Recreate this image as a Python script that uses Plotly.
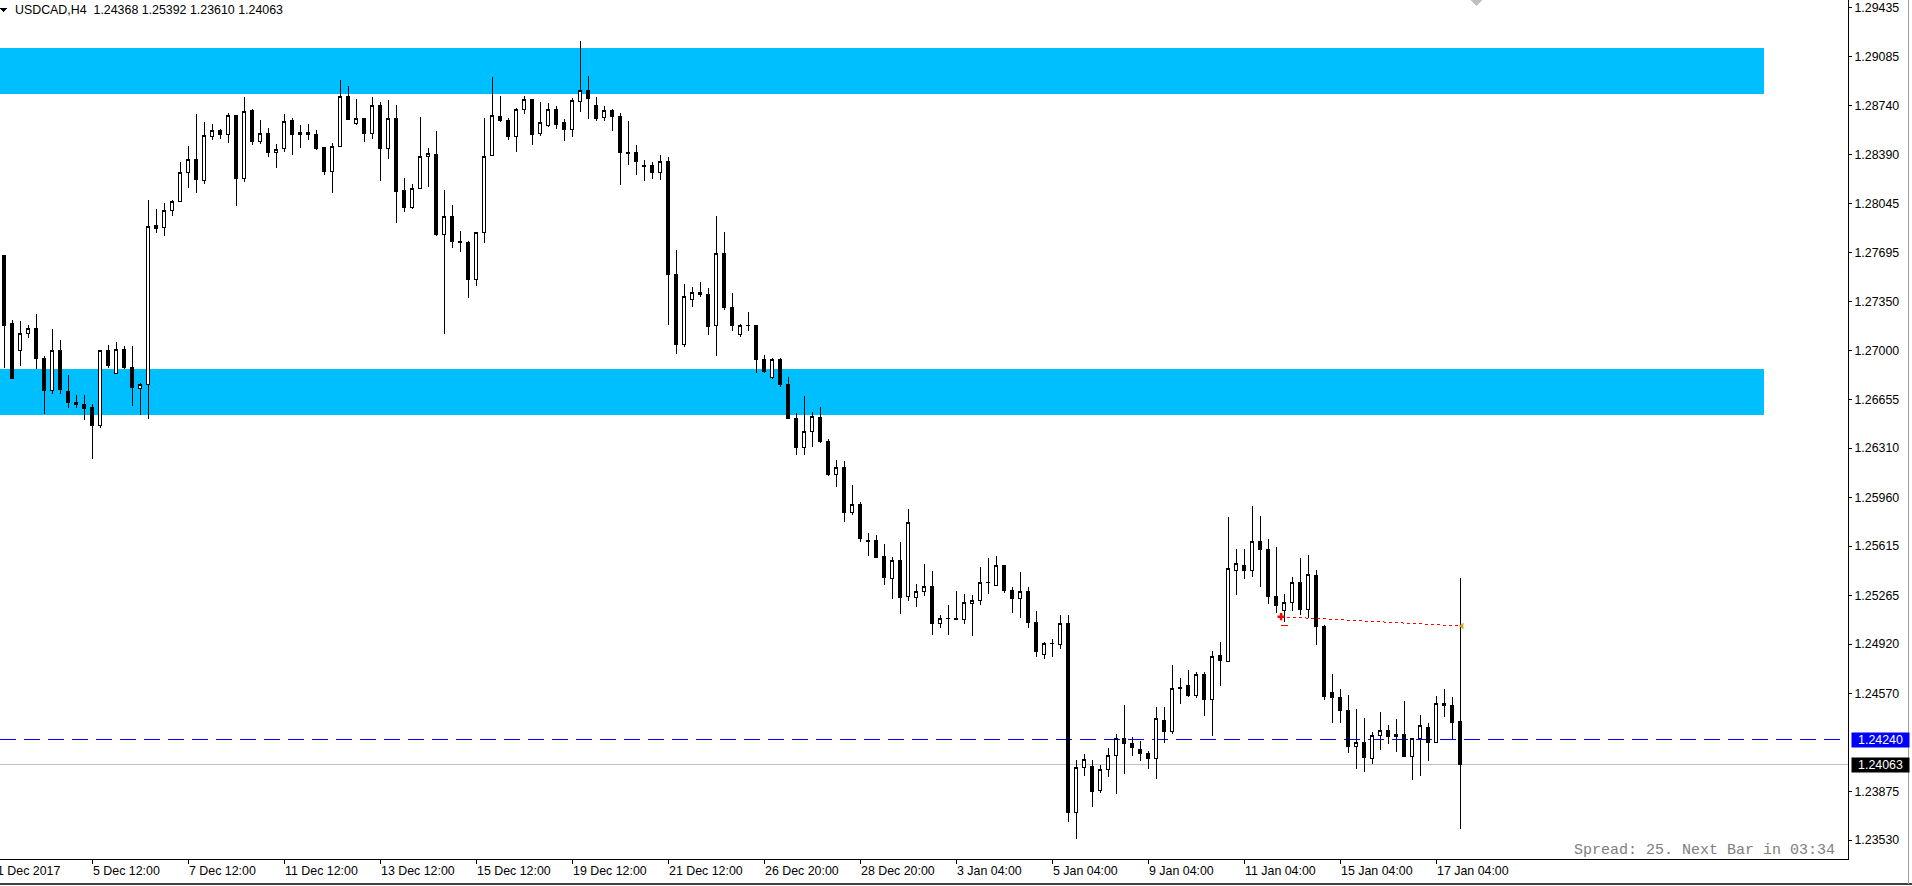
import plotly.graph_objects as go

# ---------------- data ----------------
bar_index = list(range(183))

opens = [1.27672, 1.27190, 1.27003, 1.27124, 1.27159, 1.26948, 1.26716, 1.27003, 1.26714, 1.26636,
         1.26622, 1.26594, 1.26468, 1.27003, 1.26840, 1.27010, 1.26883, 1.26734, 1.26762, 1.27889,
         1.27875, 1.27996, 1.28057, 1.28265, 1.28357, 1.28209, 1.28521, 1.28563, 1.28535, 1.28669,
         1.28220, 1.28700, 1.28482, 1.28542, 1.28404, 1.28432, 1.28634, 1.28532, 1.28549, 1.28535,
         1.28443, 1.28269, 1.28450, 1.28804, 1.28610, 1.28648, 1.28539, 1.28740, 1.28435, 1.28648,
         1.28138, 1.28017, 1.28152, 1.28379, 1.28395, 1.27823, 1.27953, 1.27778, 1.27771, 1.27504,
         1.27840, 1.28383, 1.28664, 1.28636, 1.28518, 1.28712, 1.28785, 1.28539, 1.28596, 1.28714,
         1.28615, 1.28567, 1.28769, 1.28847, 1.28740, 1.28655, 1.28700, 1.28664, 1.28407, 1.28409,
         1.28315, 1.28317, 1.28265, 1.28343, 1.27542, 1.27043, 1.27365, 1.27414, 1.27402, 1.27177,
         1.27693, 1.27310, 1.27117, 1.27177, 1.27182, 1.26939, 1.26809, 1.26939, 1.26762, 1.26523,
         1.26312, 1.26426, 1.26528, 1.26358, 1.26124, 1.26173, 1.25854, 1.25913, 1.25658, 1.25651,
         1.25544, 1.25386, 1.25516, 1.25254, 1.25252, 1.25294, 1.25325, 1.25064, 1.25103, 1.25103,
         1.25096, 1.25209, 1.25230, 1.25358, 1.25337, 1.25479, 1.25301, 1.25245, 1.25294, 1.25074,
         1.24847, 1.24923, 1.24918, 1.25067, 1.23727, 1.24046, 1.24053, 1.23883, 1.24032, 1.24131,
         1.24252, 1.24218, 1.24176, 1.24145, 1.24110, 1.24381, 1.24301, 1.24615, 1.24623, 1.24552,
         1.24701, 1.24528, 1.24837, 1.24795, 1.25443, 1.25479, 1.25443, 1.25649, 1.25592, 1.25259,
         1.25159, 1.25216, 1.25358, 1.25166, 1.25408, 1.25046, 1.24578, 1.24542, 1.24450, 1.24192,
         1.24223, 1.24110, 1.24273, 1.24308, 1.24266, 1.24280, 1.24121, 1.24252, 1.24330, 1.24220,
         1.24500, 1.24486, 1.24368]

highs = [1.27679, 1.27218, 1.27211, 1.27182, 1.27260, 1.26963, 1.27154, 1.27076, 1.26828, 1.26686,
         1.26686, 1.26622, 1.27005, 1.27041, 1.27062, 1.27031, 1.27034, 1.26769, 1.28069, 1.28002,
         1.28048, 1.28069, 1.28338, 1.28452, 1.28679, 1.28622, 1.28608, 1.28572, 1.28686, 1.28672,
         1.28799, 1.28714, 1.28636, 1.28579, 1.28466, 1.28679, 1.28648, 1.28601, 1.28608, 1.28565,
         1.28445, 1.28471, 1.28920, 1.28877, 1.28785, 1.28650, 1.28797, 1.28764, 1.28778, 1.28740,
         1.28225, 1.28182, 1.28655, 1.28438, 1.28558, 1.28140, 1.28033, 1.27849, 1.27778, 1.27842,
         1.28650, 1.28941, 1.28806, 1.28650, 1.28721, 1.28806, 1.28787, 1.28764, 1.28757, 1.28735,
         1.28643, 1.28790, 1.29196, 1.28948, 1.28799, 1.28735, 1.28714, 1.28686, 1.28629, 1.28459,
         1.28352, 1.28338, 1.28388, 1.28374, 1.27714, 1.27473, 1.27452, 1.27487, 1.27443, 1.27957,
         1.27844, 1.27409, 1.27187, 1.27275, 1.27184, 1.26970, 1.26946, 1.26946, 1.26816, 1.26556,
         1.26679, 1.26565, 1.26601, 1.26376, 1.26225, 1.26218, 1.26048, 1.25925, 1.25710, 1.25693,
         1.25629, 1.25537, 1.25644, 1.25878, 1.25346, 1.25488, 1.25438, 1.25128, 1.25195, 1.25296,
         1.25273, 1.25266, 1.25466, 1.25530, 1.25544, 1.25481, 1.25323, 1.25429, 1.25323, 1.25152,
         1.24937, 1.24954, 1.25124, 1.25124, 1.24098, 1.24140, 1.24098, 1.24065, 1.24183, 1.24282,
         1.24488, 1.24263, 1.24235, 1.24160, 1.24474, 1.24474, 1.24771, 1.24679, 1.24736, 1.24720,
         1.24720, 1.24871, 1.24935, 1.25823, 1.25594, 1.25594, 1.25899, 1.25828, 1.25665, 1.25608,
         1.25275, 1.25393, 1.25530, 1.25551, 1.25445, 1.25053, 1.24708, 1.24601, 1.24559, 1.24459,
         1.24396, 1.24294, 1.24438, 1.24344, 1.24389, 1.24516, 1.24254, 1.24415, 1.24360, 1.24550,
         1.24601, 1.24547, 1.25392]

lows = [1.26880, 1.26798, 1.26894, 1.27092, 1.26873, 1.26553, 1.26691, 1.26695, 1.26596, 1.26596,
        1.26507, 1.26232, 1.26454, 1.26880, 1.26838, 1.26873, 1.26610, 1.26546, 1.26518, 1.27837,
        1.27816, 1.27957, 1.28055, 1.28156, 1.28121, 1.28184, 1.28496, 1.28503, 1.28475, 1.28028,
        1.28199, 1.28461, 1.28468, 1.28376, 1.28298, 1.28411, 1.28390, 1.28440, 1.28496, 1.28425,
        1.28248, 1.28121, 1.28448, 1.28636, 1.28603, 1.28482, 1.28503, 1.28206, 1.28362, 1.27908,
        1.27986, 1.28007, 1.28150, 1.28163, 1.27813, 1.27121, 1.27731, 1.27702, 1.27376, 1.27461,
        1.27762, 1.28381, 1.28622, 1.28494, 1.28411, 1.28681, 1.28461, 1.28525, 1.28589, 1.28574,
        1.28489, 1.28518, 1.28693, 1.28643, 1.28629, 1.28629, 1.28558, 1.28177, 1.28319, 1.28248,
        1.28206, 1.28220, 1.28213, 1.27185, 1.26980, 1.27028, 1.27312, 1.27379, 1.27114, 1.26965,
        1.27291, 1.27142, 1.27099, 1.27142, 1.26840, 1.26840, 1.26802, 1.26745, 1.26516, 1.26263,
        1.26263, 1.26319, 1.26348, 1.26114, 1.26036, 1.25788, 1.25833, 1.25646, 1.25544, 1.25532,
        1.25339, 1.25242, 1.25135, 1.25227, 1.25185, 1.25263, 1.24986, 1.25036, 1.24986, 1.25091,
        1.25064, 1.24979, 1.25195, 1.25273, 1.25335, 1.25280, 1.25142, 1.25107, 1.25036, 1.24830,
        1.24816, 1.24826, 1.24887, 1.23658, 1.23540, 1.23986, 1.23767, 1.23862, 1.23975, 1.23859,
        1.24001, 1.24128, 1.24089, 1.24036, 1.23965, 1.24216, 1.24280, 1.24497, 1.24545, 1.24535,
        1.24412, 1.24266, 1.24625, 1.24793, 1.25270, 1.25383, 1.25395, 1.25325, 1.25206, 1.25140,
        1.25074, 1.25152, 1.25124, 1.25103, 1.24915, 1.24523, 1.24358, 1.24362, 1.24149, 1.24036,
        1.24015, 1.24072, 1.24171, 1.24213, 1.24157, 1.24119, 1.23958, 1.23986, 1.24093, 1.24218,
        1.24405, 1.24240, 1.23610]

closes = [1.27177, 1.26802, 1.27124, 1.27159, 1.26943, 1.26716, 1.27003, 1.26724, 1.26631, 1.26617,
          1.26589, 1.26468, 1.27003, 1.26894, 1.27010, 1.26880, 1.26741, 1.26762, 1.27882, 1.27865,
          1.27996, 1.28060, 1.28265, 1.28357, 1.28213, 1.28528, 1.28563, 1.28532, 1.28669, 1.28220,
          1.28698, 1.28482, 1.28542, 1.28404, 1.28428, 1.28627, 1.28532, 1.28549, 1.28532, 1.28432,
          1.28269, 1.28450, 1.28804, 1.28643, 1.28648, 1.28539, 1.28740, 1.28435, 1.28648, 1.28128,
          1.28017, 1.28149, 1.28379, 1.28397, 1.27823, 1.27953, 1.27773, 1.27769, 1.27504, 1.27840,
          1.28379, 1.28669, 1.28631, 1.28518, 1.28714, 1.28785, 1.28532, 1.28620, 1.28714, 1.28603,
          1.28567, 1.28771, 1.28847, 1.28787, 1.28650, 1.28700, 1.28659, 1.28404, 1.28397, 1.28340,
          1.28305, 1.28262, 1.28343, 1.27539, 1.27044, 1.27386, 1.27414, 1.27397, 1.27170, 1.27693,
          1.27310, 1.27177, 1.27180, 1.27180, 1.26936, 1.26851, 1.26939, 1.26759, 1.26518, 1.26312,
          1.26429, 1.26535, 1.26355, 1.26119, 1.26173, 1.25851, 1.25913, 1.25667, 1.25649, 1.25537,
          1.25391, 1.25516, 1.25249, 1.25785, 1.25294, 1.25330, 1.25064, 1.25100, 1.25104, 1.25093,
          1.25216, 1.25230, 1.25358, 1.25360, 1.25479, 1.25298, 1.25242, 1.25294, 1.25071, 1.24866,
          1.24925, 1.24925, 1.25067, 1.23727, 1.24046, 1.24103, 1.23873, 1.24032, 1.24131, 1.24252,
          1.24213, 1.24188, 1.24145, 1.24110, 1.24389, 1.24298, 1.24606, 1.24603, 1.24552, 1.24701,
          1.24530, 1.24835, 1.24805, 1.25457, 1.25488, 1.25443, 1.25649, 1.25589, 1.25256, 1.25192,
          1.25216, 1.25358, 1.25166, 1.25415, 1.25043, 1.24547, 1.24542, 1.24447, 1.24192, 1.24220,
          1.24114, 1.24273, 1.24308, 1.24263, 1.24280, 1.24121, 1.24252, 1.24344, 1.24220, 1.24500,
          1.24486, 1.24362, 1.24063]

y_tick_values = [1.29435, 1.29085, 1.28740, 1.28390, 1.28045, 1.27695, 1.27350, 1.27000, 1.26655,
                 1.26310, 1.25960, 1.25615, 1.25265, 1.24920, 1.24570, 1.23875, 1.23530]

x_label_bars = [-1, 11, 23, 35, 47, 59, 71, 83, 95, 107, 119, 131, 143, 155, 167, 179]
x_label_texts = ["1 Dec 2017", "5 Dec 12:00", "7 Dec 12:00", "11 Dec 12:00", "13 Dec 12:00",
                 "15 Dec 12:00", "19 Dec 12:00", "21 Dec 12:00", "26 Dec 20:00", "28 Dec 20:00",
                 "3 Jan 04:00", "5 Jan 04:00", "9 Jan 04:00", "11 Jan 04:00", "15 Jan 04:00",
                 "17 Jan 04:00"]

zone_upper = [1.28823, 1.29147]
zone_lower = [1.26546, 1.26870]
zone_end_bar = 220

ask_price = 1.24240
last_price = 1.24063

trade_bars = [159.6, 182.2]
trade_prices = [1.25114, 1.25048]
stop_bars = [159.6, 160.5]
stop_price = 1.25053

symbol_text = "USDCAD,H4"
status_text = "Spread: 25. Next Bar in 03:34"

# ---------------- figure ----------------
FONT = "Liberation Sans, Arial, sans-serif"
W, H = 1912, 886
PLOT_W, PLOT_H = 1848, 859

fig = go.Figure()

fig.add_trace(go.Candlestick(
    x=bar_index, open=opens, high=highs, low=lows, close=closes,
    increasing=dict(line=dict(color="black", width=1), fillcolor="white"),
    decreasing=dict(line=dict(color="black", width=1), fillcolor="black"),
    whiskerwidth=0, hoverinfo="skip", showlegend=False,
))

fig.add_trace(go.Scatter(
    x=trade_bars, y=trade_prices, mode="lines",
    line=dict(color="#FF0000", width=1, dash="3px,3px"), hoverinfo="skip", showlegend=False))
fig.add_trace(go.Scatter(
    x=stop_bars, y=[stop_price, stop_price], mode="lines",
    line=dict(color="#FF0000", width=1.5), hoverinfo="skip", showlegend=False))
fig.add_trace(go.Scatter(
    x=[trade_bars[0]], y=[trade_prices[0]], mode="markers",
    marker=dict(symbol="cross", size=6, color="#FF0000", line=dict(width=0)),
    hoverinfo="skip", showlegend=False))
fig.add_trace(go.Scatter(
    x=[trade_bars[1]], y=[trade_prices[1]], mode="markers",
    marker=dict(symbol="triangle-left", size=6, color="#DAA520", line=dict(width=0)),
    hoverinfo="skip", showlegend=False))

shapes = []
for lo, hi in (zone_upper, zone_lower):
    shapes.append(dict(type="rect", xref="x", yref="y", x0=-5, x1=zone_end_bar, y0=lo, y1=hi,
                       fillcolor="#00BFFF", line=dict(width=0), layer="below"))
shapes.append(dict(type="line", xref="paper", yref="y", x0=0, x1=1, y0=last_price, y1=last_price,
                   line=dict(color="#C0C0C0", width=1), layer="below"))
shapes.append(dict(type="line", xref="paper", yref="y", x0=0, x1=1, y0=ask_price, y1=ask_price,
                   line=dict(color="#0000FF", width=1, dash="16px,8px"), layer="below"))

# small header triangle
shapes.append(dict(type="path", xref="paper", yref="paper",
                   path=f"M 0 {1-8.3/PLOT_H} L {6.7/PLOT_W} {1-8.3/PLOT_H} L {3.35/PLOT_W} {1-12.3/PLOT_H} Z",
                   fillcolor="black", line=dict(width=0)))
# chart-shift marker at top
shapes.append(dict(type="path", xref="paper", yref="paper",
                   path=f"M {1471/PLOT_W} 1 L {1482/PLOT_W} 1 L {1476.5/PLOT_W} {1-6/PLOT_H} Z",
                   fillcolor="#C0C0C0", line=dict(width=0)))
# window borders
shapes.append(dict(type="line", xref="paper", yref="paper", x0=0, x1=W/PLOT_W,
                   y0=(PLOT_H-884)/PLOT_H, y1=(PLOT_H-884)/PLOT_H,
                   line=dict(color="#404040", width=2)))
shapes.append(dict(type="line", xref="paper", yref="paper", x0=1908.5/PLOT_W, x1=1908.5/PLOT_W,
                   y0=1, y1=(PLOT_H-884)/PLOT_H, line=dict(color="#A0A0A0", width=1)))

annotations = []
for b, t in zip(x_label_bars, x_label_texts):
    xb = b if b >= 0 else -0.5
    xs = -1 if b >= 0 else -4 - 1
    annotations.append(dict(x=xb, xref="x", y=-12/PLOT_H, yref="paper", text=t,
                            xanchor="left", yanchor="middle", xshift=xs, showarrow=False,
                            font=dict(family=FONT, size=12.4, color="black")))

annotations.append(dict(x=1, xref="paper", xshift=3, y=ask_price, yref="y", text=f"{ask_price:.5f}",
                        xanchor="left", yanchor="middle", showarrow=False, bgcolor="#0000FF",
                        width=55, height=12, borderpad=1,
                        font=dict(family=FONT, size=12.4, color="white")))
annotations.append(dict(x=1, xref="paper", xshift=3, y=last_price, yref="y", text=f"{last_price:.5f}",
                        xanchor="left", yanchor="middle", showarrow=False, bgcolor="#000000",
                        width=55, height=12, borderpad=1,
                        font=dict(family=FONT, size=12.4, color="white")))

header = (symbol_text + "\u00a0\u00a0" +
          " ".join(f"{v:.5f}" for v in (opens[-1], highs[-1], lows[-1], closes[-1])))
annotations.append(dict(x=14/PLOT_W, xref="paper", xshift=-1, y=1-9.5/PLOT_H, yref="paper",
                        text=header, xanchor="left", yanchor="middle", showarrow=False,
                        font=dict(family=FONT, size=12.4, color="black")))
annotations.append(dict(x=1837/PLOT_W, xref="paper", y=(PLOT_H-850)/PLOT_H, yref="paper",
                        text=status_text, xanchor="right", yanchor="middle", showarrow=False,
                        font=dict(family="Liberation Mono, Courier New, monospace", size=15,
                                  color="#808080")))

fig.update_layout(
    width=W, height=H,
    margin=dict(l=0, r=W-PLOT_W, t=0, b=H-PLOT_H, pad=0),
    paper_bgcolor="white", plot_bgcolor="white",
    showlegend=False, hovermode=False, boxgap=0.45,
    shapes=shapes, annotations=annotations,
    xaxis=dict(range=[-0.5375, 230.46], showgrid=False, zeroline=False, showline=True,
               linecolor="black", linewidth=1, ticks="outside", ticklen=4, tickcolor="black",
               tickvals=[b for b in x_label_bars if b >= 0], showticklabels=False,
               rangeslider=dict(visible=False), fixedrange=True),
    yaxis=dict(range=[1.23396, 1.29487], side="right", showgrid=False, zeroline=False,
               showline=True, linecolor="black", linewidth=1, ticks="outside", ticklen=3,
               tickcolor="black", tickvals=y_tick_values,
               ticktext=[f"{v:.5f}" for v in y_tick_values],
               tickfont=dict(family=FONT, size=12.4, color="black"), fixedrange=True),
)

crisp_js = """
var st = document.createElement('style');
st.textContent = '.main-svg .boxlayer path, .main-svg .shapelayer path, .main-svg .scatterlayer .js-line { shape-rendering: crispEdges; }';
document.head.appendChild(st);
"""

fig.write_html("out.html", config={"displayModeBar": False}, post_script=crisp_js)
